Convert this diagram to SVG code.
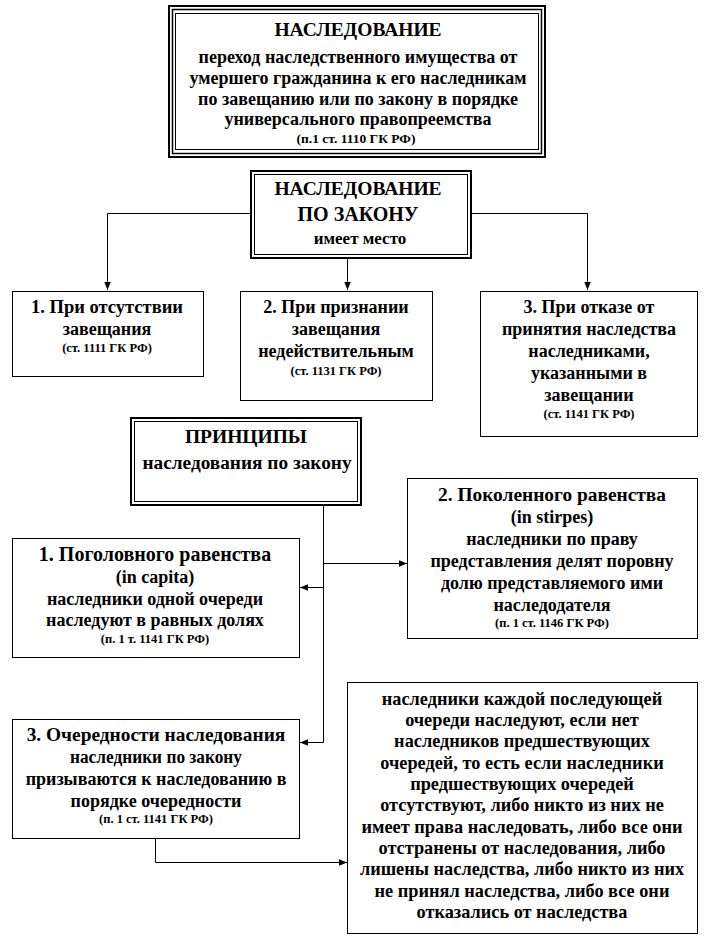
<svg xmlns="http://www.w3.org/2000/svg" width="708" height="946" viewBox="0 0 708 946">
<defs>
<style>
text{font-family:"Liberation Serif","Times New Roman",serif;fill:#000;text-anchor:middle;font-size:18px;font-weight:bold}
.h{font-size:19.5px}
.hp{font-size:20px}
.hq{font-size:19.4px}
.r{font-size:12.5px}
.sm{font-size:18.3px}
.box{fill:#fff;stroke:#000;stroke-width:1}
.thick{fill:none;stroke:#000;stroke-width:2}
.thin{fill:none;stroke:#000;stroke-width:1}
.con{fill:none;stroke:#000;stroke-width:1}
</style>
<marker id="ar" markerUnits="userSpaceOnUse" markerWidth="8" markerHeight="8" viewBox="0 0 8 8" refX="8" refY="4" orient="auto">
<path d="M0,0.8 L8,4 L0,7.2 Z" fill="#000"/>
</marker>
</defs>
<rect width="708" height="946" fill="#fff"/>

<g id="connectors">
<path class="con" d="M250,213.5 H107.5 V290" marker-end="url(#ar)"/>
<path class="con" d="M471,213.5 H587.5 V290" marker-end="url(#ar)"/>
<path class="con" d="M347.5,258 V290" marker-end="url(#ar)"/>
<path class="con" d="M323.5,505 V742.5 H300" marker-end="url(#ar)"/>
<path class="con" d="M323.5,563.5 H407" marker-end="url(#ar)"/>
<path class="con" d="M323.5,587.5 H300" marker-end="url(#ar)"/>
<path class="con" d="M155.5,838 V862.5 H347" marker-end="url(#ar)"/>
</g>

<g id="inheritance">
<rect x="169" y="6" width="376" height="151" fill="#fff" class="thick"/>
<rect x="172.5" y="9.5" width="369" height="144" style="fill:none;stroke:#000;stroke-width:1.5"/>
<rect x="175.5" y="13.5" width="363" height="136" class="thin"/>
<text x="358" y="36" class="h">НАСЛЕДОВАНИЕ</text>
<text x="358" y="63">переход наследственного имущества от</text>
<text x="358" y="84">умершего гражданина к его наследникам</text>
<text x="358" y="105">по завещанию или по закону в порядке</text>
<text x="358" y="125">универсального правопреемства</text>
<text x="356" y="143" style="font-size:13.5px">(п.1 ст. 1110 ГК РФ)</text>
</g>

<g id="by-law">
<rect x="251" y="171" width="220" height="87" fill="#fff" class="thick"/>
<rect x="254.5" y="174.5" width="213" height="80" class="thin"/>
<text x="358" y="195" class="h">НАСЛЕДОВАНИЕ</text>
<text x="358" y="221" class="hp">ПО ЗАКОНУ</text>
<text x="360" y="244" style="font-size:17px">имеет место</text>
</g>

<g id="case1">
<rect x="12.5" y="291.5" width="191" height="85" class="box"/>
<text x="107" y="313" style="font-size:18.5px">1. При отсутствии</text>
<text x="107" y="335">завещания</text>
<text x="107" y="352" class="r">(ст. 1111 ГК РФ)</text>
</g>

<g id="case2">
<rect x="240.5" y="291.5" width="192" height="109" class="box"/>
<text x="336" y="313">2. При признании</text>
<text x="336" y="335">завещания</text>
<text x="336" y="357">недействительным</text>
<text x="336" y="375" class="r">(ст. 1131 ГК РФ)</text>
</g>

<g id="case3">
<rect x="480.5" y="291.5" width="217" height="145" class="box"/>
<text x="589" y="313">3. При отказе от</text>
<text x="589" y="335">принятия наследства</text>
<text x="589" y="357">наследниками,</text>
<text x="589" y="379">указанными в</text>
<text x="589" y="401">завещании</text>
<text x="589" y="418" class="r">(ст. 1141 ГК РФ)</text>
</g>

<g id="principles">
<rect x="131" y="418" width="230" height="87" fill="#fff" class="thick"/>
<rect x="134.5" y="421.5" width="223" height="80" class="thin"/>
<text x="246" y="443" class="h">ПРИНЦИПЫ</text>
<text x="247" y="469" style="font-size:19.3px">наследования по закону</text>
</g>

<g id="per-capita">
<rect x="12.5" y="538.5" width="287" height="119" class="box"/>
<text x="155" y="561" class="hp">1. Поголовного равенства</text>
<text x="155" y="583">(in capita)</text>
<text x="155" y="605">наследники одной очереди</text>
<text x="155" y="626">наследуют в равных долях</text>
<text x="155" y="643" class="r">(п. 1 т. 1141 ГК РФ)</text>
</g>

<g id="per-stirpes">
<rect x="407.5" y="478.5" width="290" height="160" class="box"/>
<text x="552" y="501" class="hq">2. Поколенного равенства</text>
<text x="552" y="523">(in stirpes)</text>
<text x="552" y="545">наследники по праву</text>
<text x="552" y="567">представления делят поровну</text>
<text x="552" y="589">долю представляемого ими</text>
<text x="552" y="611">наследодателя</text>
<text x="552" y="627" class="r">(п. 1 ст. 1146 ГК РФ)</text>
</g>

<g id="order">
<rect x="12.5" y="719.5" width="287" height="119" class="box"/>
<text x="156" y="741" class="hq">3. Очередности наследования</text>
<text x="156" y="763" textLength="172" lengthAdjust="spacingAndGlyphs">наследники по закону</text>
<text x="156" y="785">призываются к наследованию в</text>
<text x="156" y="807">порядке очередности</text>
<text x="156" y="823" class="r">(п. 1 ст. 1141 ГК РФ)</text>
</g>

<g id="order-rule">
<rect x="347.5" y="682.5" width="350" height="251" class="box"/>
<text x="522" y="705" class="sm">наследники каждой последующей</text>
<text x="522" y="726" class="sm">очереди наследуют, если нет</text>
<text x="522" y="747" class="sm">наследников предшествующих</text>
<text x="522" y="769" class="sm">очередей, то есть если наследники</text>
<text x="522" y="790" class="sm">предшествующих очередей</text>
<text x="522" y="811" class="sm">отсутствуют, либо никто из них не</text>
<text x="522" y="833" class="sm">имеет права наследовать, либо все они</text>
<text x="522" y="854" class="sm">отстранены от наследования, либо</text>
<text x="522" y="875" class="sm">лишены наследства, либо никто из них</text>
<text x="522" y="897" class="sm">не принял наследства, либо все они</text>
<text x="522" y="918" class="sm">отказались от наследства</text>
</g>
</svg>
